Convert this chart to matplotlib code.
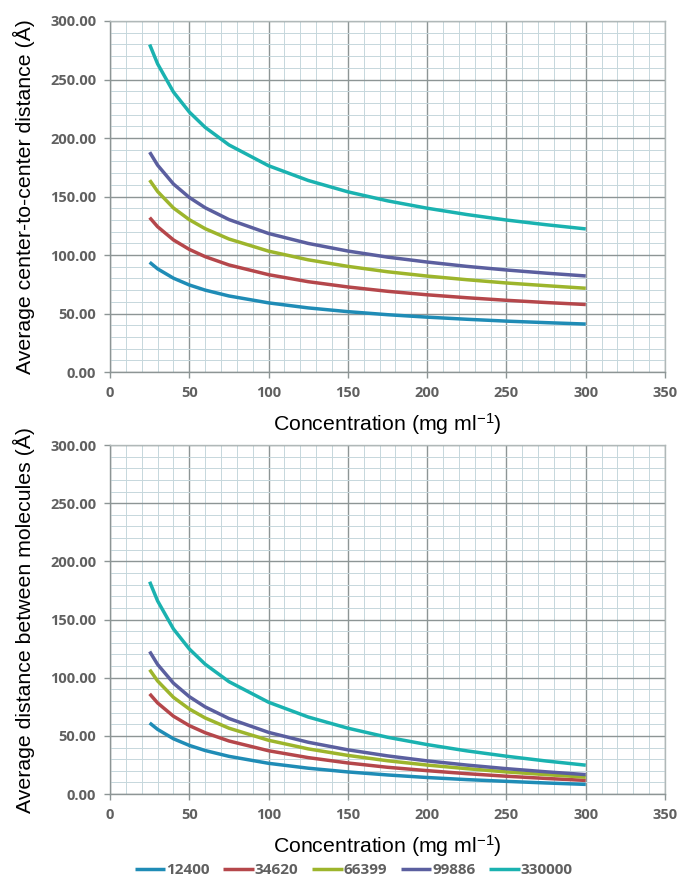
import numpy as np
import matplotlib
matplotlib.use("Agg")
import matplotlib.pyplot as plt
from matplotlib.ticker import MultipleLocator, FormatStrFormatter

# concentration (mg/ml)
conc = [25, 30, 40, 50, 60, 75, 100, 125, 150, 175, 200, 225, 250, 275, 300]

mol_weights = ["12400", "34620", "66399", "99886", "330000"]
colors = ["#1f8cb6", "#b5474b", "#9db52c", "#5b5f9f", "#1ab2b0"]

# average center-to-center distance (A)
ctc_12400 = [93.8, 88.2, 80.2, 74.4, 70.0, 65.0, 59.1, 54.8, 51.6, 49.0, 46.9, 45.1, 43.5, 42.2, 41.0]
ctc_34620 = [132.0, 124.2, 112.9, 104.8, 98.6, 91.5, 83.2, 77.2, 72.7, 69.0, 66.0, 63.5, 61.3, 59.4, 57.7]
ctc_66399 = [164.0, 154.3, 140.2, 130.2, 122.5, 113.7, 103.3, 95.9, 90.3, 85.7, 82.0, 78.9, 76.1, 73.8, 71.6]
ctc_99886 = [187.9, 176.8, 160.7, 149.2, 140.4, 130.3, 118.4, 109.9, 103.4, 98.2, 94.0, 90.3, 87.2, 84.5, 82.1]
ctc_330000 = [279.9, 263.4, 239.3, 222.2, 209.1, 194.1, 176.3, 163.7, 154.0, 146.3, 140.0, 134.6, 129.9, 125.9, 122.3]

# average distance between molecules (A)
gap_12400 = [61.1, 55.6, 47.5, 41.8, 37.4, 32.4, 26.4, 22.2, 19.0, 16.4, 14.2, 12.4, 10.9, 9.5, 8.3]
gap_34620 = [86.1, 78.3, 66.9, 58.8, 52.7, 45.6, 37.2, 31.3, 26.7, 23.0, 20.1, 17.5, 15.3, 13.4, 11.7]
gap_66399 = [106.9, 97.2, 83.1, 73.1, 65.4, 56.6, 46.2, 38.8, 33.2, 28.6, 24.9, 21.8, 19.0, 16.7, 14.5]
gap_99886 = [122.5, 111.4, 95.3, 83.7, 74.9, 64.9, 53.0, 44.5, 38.0, 32.8, 28.5, 24.9, 21.8, 19.1, 16.7]
gap_330000 = [182.5, 166.0, 141.9, 124.7, 111.6, 96.6, 78.9, 66.2, 56.6, 48.8, 42.5, 37.1, 32.5, 28.4, 24.8]

ctc = [ctc_12400, ctc_34620, ctc_66399, ctc_99886, ctc_330000]
gap = [gap_12400, gap_34620, gap_66399, gap_99886, gap_330000]

plt.rcParams["mathtext.fontset"] = "custom"
plt.rcParams["mathtext.rm"] = "Liberation Sans"
plt.rcParams["mathtext.it"] = "Liberation Sans"

tick_font = dict(family="Open Sans", weight="bold", size=10.5, color="#606060")
label_font = dict(family="Liberation Sans", size=15.3, color="black")

fig = plt.figure(figsize=(6.8, 8.86), dpi=100)
ax1 = fig.add_axes([0.1618, 0.5801, 0.8162, 0.3962])
ax2 = fig.add_axes([0.1618, 0.1038, 0.8162, 0.3939])


def style_axes(ax, ylabel):
    ax.set_xlim(0, 350)
    ax.set_ylim(0, 300)
    ax.xaxis.set_major_locator(MultipleLocator(50))
    ax.xaxis.set_minor_locator(MultipleLocator(10))
    ax.yaxis.set_major_locator(MultipleLocator(50))
    ax.yaxis.set_minor_locator(MultipleLocator(10))
    ax.yaxis.set_major_formatter(FormatStrFormatter("%.2f"))
    ax.grid(which="minor", color="#c6d7dc", lw=0.7)
    ax.grid(which="major", color="#8d9595", lw=1.0)
    ax.set_axisbelow(True)
    for s in ["top", "right"]:
        ax.spines[s].set_color("#b0b8b8")
        ax.spines[s].set_linewidth(1.0)
    for s in ["left", "bottom"]:
        ax.spines[s].set_color("#8d9595")
        ax.spines[s].set_linewidth(1.0)
    ax.tick_params(which="major", length=4, width=1, color="#8d9595", pad=6)
    ax.tick_params(which="minor", length=0)
    for lab in ax.get_xticklabels() + ax.get_yticklabels():
        lab.set(**tick_font)
    ax.set_xlabel(r"Concentration (mg ml$^{-1}$)", labelpad=8, **label_font)
    ax.set_ylabel(ylabel, **label_font)
    ax.yaxis.set_label_coords(-0.135, 0.5)


for i, name in enumerate(mol_weights):
    ax1.plot(conc, ctc[i], color=colors[i], lw=2.5, label=name, solid_capstyle="butt")
    ax2.plot(conc, gap[i], color=colors[i], lw=2.5, label=name, solid_capstyle="butt")

style_axes(ax1, "Average center-to-center distance (Å)")
style_axes(ax2, "Average distance between molecules (Å)")

handles, labels = ax2.get_legend_handles_labels()
leg = fig.legend(handles, labels, loc="center", bbox_to_anchor=(0.52, 0.018), ncol=5,
                 frameon=False, handlelength=2.0, handletextpad=0.05, columnspacing=0.9,
                 prop=dict(family="Open Sans", weight="bold", size=11))
for t in leg.get_texts():
    t.set_color("#606060")

fig.savefig("out.png", dpi=100, facecolor="white")
